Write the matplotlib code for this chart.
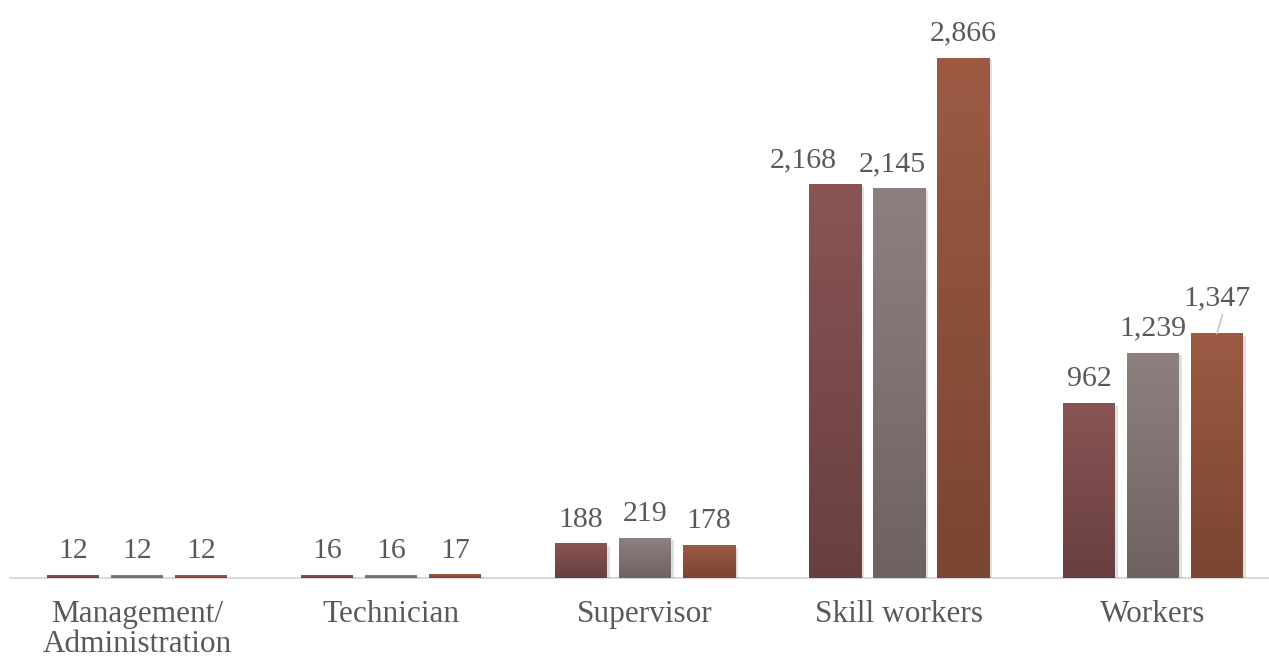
import numpy as np
import matplotlib.pyplot as plt
import matplotlib.patheffects as pe
from matplotlib.colors import LinearSegmentedColormap

categories = ['Management/\nAdministration', 'Technician', 'Supervisor', 'Skill workers', 'Workers']
series_a = [12, 16, 188, 2168, 962]
series_b = [12, 16, 219, 2145, 1239]
series_c = [12, 17, 178, 2866, 1347]

# top -> bottom gradient colours for each series
gradients = [('#8a5454', '#683f3f'),
             ('#8f8080', '#6e6260'),
             ('#9c5a43', '#7a4531')]

plt.rcParams['font.family'] = ['Liberation Serif', 'DejaVu Serif']
text_color = '#595959'

fig = plt.figure(figsize=(12.69, 6.6), dpi=100)
ax = fig.add_axes([10 / 1269, 82 / 660, 1258 / 1269, 578 / 660])

x = np.arange(len(categories))
width = 52 / 254
step = 64 / 254

all_bars = []
for i, (vals, (top, bot)) in enumerate(zip([series_a, series_b, series_c], gradients)):
    bars = ax.bar(x + (i - 1) * step, vals, width, color=bot, zorder=2,
                  path_effects=[pe.SimplePatchShadow(offset=(2, -1.5), shadow_rgbFace='#000000', alpha=0.12),
                                pe.Normal()])
    cmap = LinearSegmentedColormap.from_list('g%d' % i, [bot, top])
    grad = np.linspace(0, 1, 256).reshape(-1, 1)
    for b in bars:
        x0, w, h = b.get_x(), b.get_width(), b.get_height()
        ax.imshow(grad, cmap=cmap, origin='lower', aspect='auto',
                  extent=(x0, x0 + w, 0, h), zorder=3, interpolation='bilinear')
    all_bars.append(bars)

# value labels; a few are nudged so neighbours don't collide
nudge = {2168: (-23, 12.5), 2145: (-5, 12.5)}
for bars in all_bars:
    for b in bars:
        v = b.get_height()
        cx = b.get_x() + b.get_width() / 2
        if v == 1347:
            ax.annotate(f'{v:,}', xy=(cx, v), xytext=(0, 20), textcoords='offset points',
                        ha='center', va='baseline', fontsize=21.5, color=text_color, zorder=5,
                        arrowprops=dict(arrowstyle='-', color='#c8c8c8', lw=1.2,
                                        shrinkA=0, shrinkB=0, relpos=(0.58, -0.1)))
        else:
            ax.annotate(f'{v:,}', xy=(cx, v), xytext=nudge.get(v, (0, 12.5)),
                        textcoords='offset points', ha='center', va='baseline',
                        fontsize=21.5, color=text_color, zorder=5)

ax.set_xlim(-0.5, (1268 - 137) / 254)
ax.set_ylim(0, 578 / 520 * 2866)
ax.set_xticks(x)
ax.set_xticklabels(categories, fontsize=22.5, color=text_color, linespacing=1.03)
ax.tick_params(axis='x', length=0, pad=16)
ax.set_yticks([])
for s in ['top', 'right', 'left']:
    ax.spines[s].set_visible(False)
ax.spines['bottom'].set_color('#d9d9d9')
ax.spines['bottom'].set_linewidth(1.5)
ax.spines['bottom'].set_zorder(1)

fig.savefig('out.png', dpi=100)
